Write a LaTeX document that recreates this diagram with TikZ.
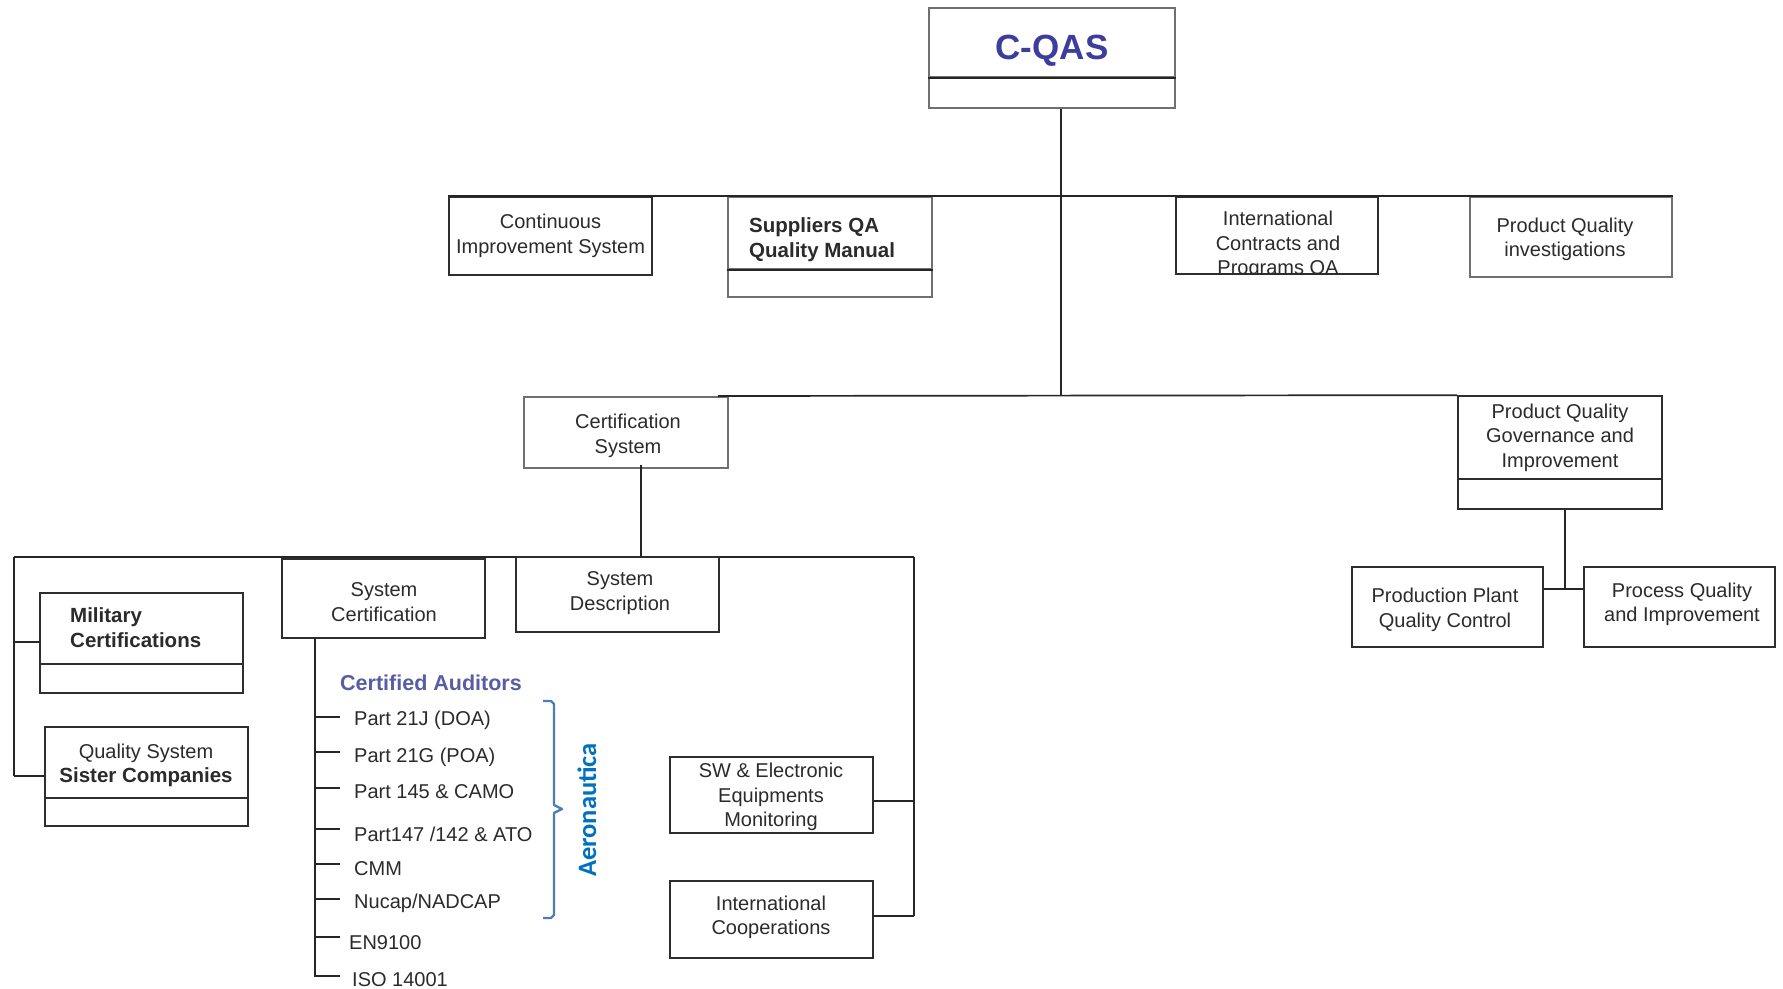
\documentclass[tikz,border=0pt]{standalone}
\usepackage{fontspec}
\setmainfont{Liberation Sans}
\newfontfamily\calibfont{Carlito}
\definecolor{wire}{HTML}{262626}
\definecolor{edgedark}{HTML}{2E2E2E}
\definecolor{edgegray}{HTML}{707070}
\definecolor{txt}{HTML}{2B2B2B}
\definecolor{titleblue}{HTML}{3D3D9E}
\definecolor{audblue}{HTML}{5A5CA4}
\definecolor{bracecol}{HTML}{4A7EBB}
\definecolor{aerocol}{HTML}{0070C0}
\newcommand\txtreg{\fontsize{20}{24.5}\selectfont}
\newcommand\txtbold{\fontsize{20.5}{25.5}\selectfont\bfseries}
\begin{document}
\begin{tikzpicture}[x=1pt,y=-1pt,
  box/.style={draw=edgedark, line width=1.7pt, inner sep=0pt},
  boxg/.style={box, draw=edgegray},
  link/.style={draw=wire, line width=1.7pt},
  label/.style={inner sep=0pt, text=txt, font=\txtreg, align=center},
  item/.style={label, anchor=west}]
\useasboundingbox[fill=white] (0,0) rectangle (1783,988);

% ---- top box ----
\node[boxg, minimum width=246, minimum height=69] (cqasU) at (1052,42.5) {};
\node[boxg, minimum width=246, minimum height=31] (cqasL) at (1052,92.5) {};
\draw[link] (cqasU.south west) -- (cqasU.south east);
\node[label, text=titleblue, font=\fontsize{35}{40}\selectfont\bfseries] (cqasT) at (1052,50.5) {C-QAS};

% ---- first level ----
\node[box, minimum width=203, minimum height=78] (cont) at (550.5,236) {};
\node[label] (contT) at (cont.center) {Continuous\\Improvement System};
\node[boxg, minimum width=204, minimum height=72] (suppU) at (830,233) {};
\node[boxg, minimum width=204, minimum height=28] (suppL) at (830,283) {};
\draw[link] (suppU.south west) -- (suppU.south east);
\node[label, anchor=west, align=left, font=\txtbold] (suppT) at (749,239.5) {Suppliers QA\\Quality Manual};
\node[box, minimum width=202, minimum height=77] (intl) at (1277,235.5) {};
\begin{scope}
  \clip (intl.north west) rectangle (intl.south east);
  \node[label] (intlT) at (1278,245) {International\\Contracts and\\Programs QA};
\end{scope}
\node[boxg, minimum width=202, minimum height=80] (pqi) at (1571,237) {};
\node[label] (pqiT) at (1565,239.5) {Product Quality\\investigations};

\draw[link] (cont.north west) -- (pqi.north east);
\draw[link] ([xshift=9]cqasL.south) -- (1061,396) coordinate (hub);

% ---- second level ----
\node[boxg, minimum width=204, minimum height=71] (cert) at (626,432.5) {};
\node[label] (certT) at (628,436) {Certification\\System};
\node[box, minimum width=204, minimum height=83] (pqgU) at (1560,437.5) {};
\node[label] (pqgT) at (1560,437.5) {Product Quality\\Governance and\\Improvement};
\node[box, minimum width=204, minimum height=30] (pqgL) at (1560,494) {};
\draw[link] (718,396) coordinate (certjoin) -- (pqgU.north west);

% ---- product quality branch ----
\node[box, minimum width=191, minimum height=80] (prod) at (1447.5,607) {};
\node[label] (prodT) at (1445,610) {Production Plant\\Quality Control};
\node[box, minimum width=191, minimum height=80] (proc) at (1679.5,607) {};
\node[label] (procT) at (1682,604.5) {Process Quality\\and Improvement};
\draw[link] ([xshift=5]pqgL.south) -- (1565,589) coordinate (pqjoin);
\draw[link] (prod.east |- pqjoin) -- (proc.west |- pqjoin);

% ---- certification branch ----
\draw[link] ([xshift=15,yshift=4]cert.south) -- (641,557) coordinate (certbus);
\coordinate (busL) at (14,557);
\coordinate (busR) at (914,557);
\draw[link] (busL) -- (busR);

\node[box, minimum width=203, minimum height=79] (syscert) at (383.5,598.5) {};
\node[label] (syscertT) at (384,602) {System\\Certification};
\node[box, minimum width=203, minimum height=75] (sysdesc) at (617.5,594.5) {};
\node[label] (sysdescT) at (620,593) {System\\Description};

\node[box, minimum width=203, minimum height=71] (milU) at (141.5,628.5) {};
\node[box, minimum width=203, minimum height=29] (milL) at (141.5,678.5) {};
\node[label, anchor=west, align=left, font=\txtbold] (milT) at (70,627.5) {Military\\Certifications};
\node[box, minimum width=203, minimum height=71] (qsU) at (146.5,762.5) {};
\node[label] (qsT) at (146,765.5) {Quality System\\{\txtbold Sister Companies}};
\node[box, minimum width=203, minimum height=28] (qsL) at (146.5,812) {};

\draw[link] (busL) -- (14,776) coordinate (leftend);
\draw[link] (14,642) -- (milU.west |- 0,642);
\draw[link] (leftend) -- (qsU.west |- leftend);

\node[box, minimum width=203, minimum height=76] (sw) at (771.5,795) {};
\node[label] (swT) at (771,797) {SW \& Electronic\\Equipments\\Monitoring};
\node[box, minimum width=203, minimum height=77] (ic) at (771.5,919.5) {};
\node[label] (icT) at (771,917.5) {International\\Cooperations};
\draw[link] (busR) -- (914,916) coordinate (rightend);
\draw[link] (sw.east |- 0,801) -- (busR |- 0,801);
\draw[link] (ic.east |- rightend) -- (rightend);

% ---- certified auditors list ----
\node[label, anchor=west, text=audblue, font=\fontsize{21.5}{25}\selectfont\bfseries] (aud) at (340,683) {Certified Auditors};
\node[item] (p21j) at (354,720.5) {Part 21J (DOA)};
\node[item] (p21g) at (354,757.5) {Part 21G (POA)};
\node[item] (p145) at (354,792) {Part 145 \& CAMO};
\node[item] (p147) at (354,834.5) {Part147 /142 \& ATO};
\node[item] (cmm)  at (354,868.5) {CMM};
\node[item] (nadc) at (354,903.5) {Nucap/NADCAP};
\node[item] (en)   at (349,942.5) {EN9100};
\node[item] (iso)  at (352,979.5) {ISO 14001};

\coordinate (trunkTop) at (315,638);
\draw[link] (trunkTop) -- (315,977);
\foreach \ty in {717,752,788,829,864,899,937,976}{
  \draw[link] (315,\ty) -- (340,\ty);
}

% ---- aeronautica bracket ----
\draw[bracecol, line width=2.4pt, line join=round] (543,701) -- (551,701) -- (554,704) -- (554,805) -- (562,809) -- (554,813) -- (554,915) -- (551,918) -- (543,918);
\node[inner sep=0pt, rotate=90, text=aerocol, font=\calibfont\fontsize{26.5}{30}\selectfont\bfseries] (aero) at (587,810) {Aeronautica};
\end{tikzpicture}
\end{document}
